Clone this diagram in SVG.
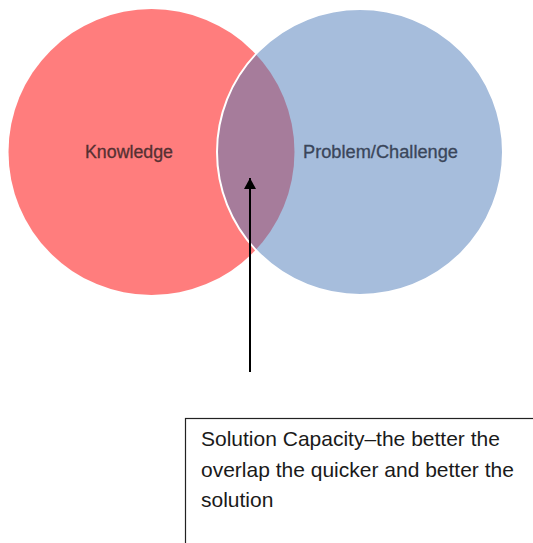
<svg xmlns="http://www.w3.org/2000/svg" width="533" height="543" viewBox="0 0 533 543">
  <defs>
    <style>
      .lbl { font-family: "Liberation Sans", Arial, sans-serif; font-size: 17.5px; text-anchor: middle; }
      .note { font-family: "Liberation Sans", Arial, Helvetica, sans-serif; font-size: 21px; fill: #1a1a1a; }
    </style>
    <marker id="arrowhead" viewBox="0 0 11 12" refX="11" refY="6" markerWidth="11" markerHeight="12" markerUnits="userSpaceOnUse" orient="auto">
      <path d="M0,0 L11,6 L0,12 Z" fill="#000"/>
    </marker>
  </defs>
  <rect width="533" height="543" fill="#ffffff"/>
  <g id="knowledge">
    <circle cx="151.5" cy="152" r="143" fill="#FF7D7D"/>
    <text class="lbl" x="129" y="158" fill="#553032" textLength="88" lengthAdjust="spacingAndGlyphs" stroke="#553032" stroke-width="0.3">Knowledge</text>
  </g>
  <g id="problem-challenge">
    <circle cx="360" cy="152" r="143" fill="#4D7BB9" fill-opacity="0.5" stroke="#ffffff" stroke-width="2"/>
    <text class="lbl" x="380.5" y="158" fill="#3A465A" textLength="155" lengthAdjust="spacingAndGlyphs" stroke="#3A465A" stroke-width="0.3">Problem/Challenge</text>
  </g>
  <g id="connectors">
    <line x1="250" y1="372" x2="250" y2="178" stroke="#000" stroke-width="2" marker-end="url(#arrowhead)"/>
  </g>
  <g id="solution-capacity">
    <rect x="185.5" y="418.5" width="400" height="200" fill="#ffffff" stroke="#222" stroke-width="1.2"/>
    <text class="note" x="201" y="446">Solution Capacity–the better the</text>
    <text class="note" x="201" y="476.5">overlap the quicker and better the</text>
    <text class="note" x="201" y="507">solution</text>
  </g>
</svg>
